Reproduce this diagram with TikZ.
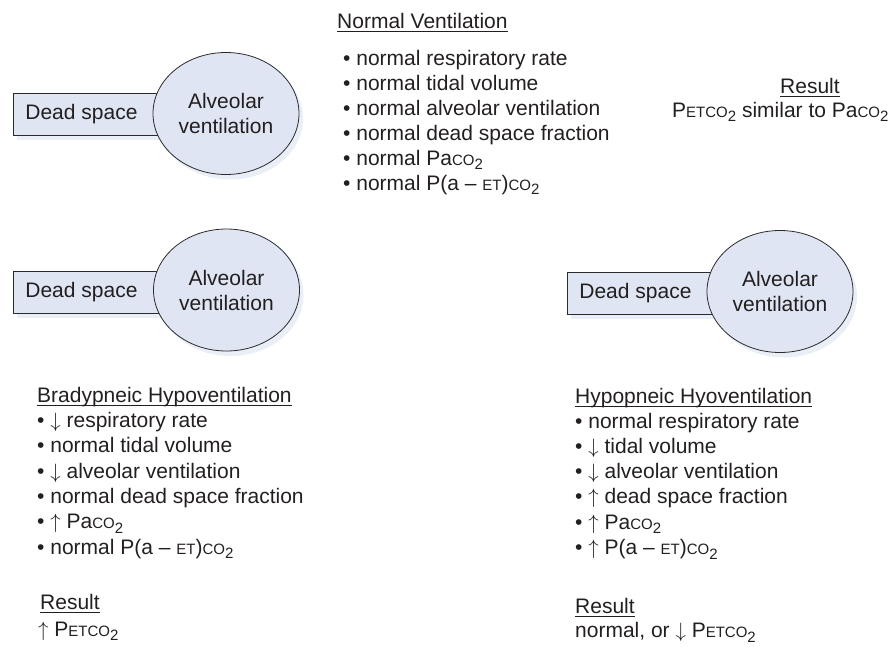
\documentclass[tikz,border=0pt]{standalone}
\usepackage{fontspec}
\setmainfont{Liberation Sans}
\usetikzlibrary{shapes.geometric,shadows}
\definecolor{boxfill}{HTML}{DFE5F2}
\definecolor{shadowc}{HTML}{E9EEF7}
\definecolor{ink}{HTML}{231F20}
\definecolor{edgec}{HTML}{2B2B2B}
\newcommand\smc[1]{{\fontsize{15}{15}\selectfont #1}}
\newcommand\subtwo{\raisebox{-4.5pt}{\fontsize{15}{15}\selectfont 2}}
\newcommand\paco{Pa\smc{CO}\subtwo}
\newcommand\petco{P\smc{ETCO}\subtwo}
\newcommand\pdiff{P(a – \smc{ET})\smc{CO}\subtwo}
\newcommand\dnar{$\downarrow$}
\newcommand\upar{$\uparrow$}
\newcommand\ulin[1]{\setbox0\hbox{#1}\rlap{\rule[-3.5pt]{\wd0}{0.9pt}}\box0}
\begin{document}
\begin{tikzpicture}[x=1pt,y=-1pt,
  font=\fontsize{21}{25}\selectfont, text=ink,
  txt/.style={anchor=base west, inner sep=0pt},
  shad/.style={drop shadow={shadow xshift=4pt, shadow yshift=-5pt, fill=shadowc, opacity=1}},
  dsbox/.style={draw=edgec, fill=boxfill, line width=0.8pt, minimum height=42pt,
    text width=126pt, align=flush left, inner xsep=12pt, inner ysep=0pt, anchor=north west, shad},
  alv/.style={ellipse, draw=edgec, fill=boxfill, line width=0.8pt, minimum width=146pt,
    minimum height=122pt, inner sep=0pt, align=center, shad}]
\useasboundingbox (0,0) rectangle (889,646);

% top diagram
\node[dsbox] (ds1) at (13,93) {Dead space};
\node[alv] (av1) at (226,113.5) {Alveolar\\ventilation};

% middle left
\node[dsbox] (ds2) at (13,271) {Dead space};
\node[alv] (av2) at (226.5,290) {Alveolar\\ventilation};

% middle right
\node[dsbox] (ds3) at (567,271.5) {Dead space};
\node[alv] (av3) at (780,291.5) {Alveolar\\ventilation};

% normal ventilation
\node[txt] (nvt) at (337,28) {\ulin{Normal Ventilation}};
\node[txt] (n1) at (343,65) {• normal respiratory rate};
\node[txt] (n2) at (343,90) {• normal tidal volume};
\node[txt] (n3) at (343,115) {• normal alveolar ventilation};
\node[txt] (n4) at (343,140) {• normal dead space fraction};
\node[txt] (n5) at (343,165) {• normal \paco};
\node[txt] (n6) at (343,190) {• normal \pdiff};

\node[txt] (r0t) at (780,93) {\ulin{Result}};
\node[txt] (r0) at (672,117) {\petco\ similar to \paco};

% bradypneic
\node[txt] (bt) at (37,402) {\ulin{Bradypneic Hypoventilation}};
\node[txt] (b1) at (37,427.5) {• \dnar\ respiratory rate};
\node[txt] (b2) at (37,452.8) {• normal tidal volume};
\node[txt] (b3) at (37,478.1) {• \dnar\ alveolar ventilation};
\node[txt] (b4) at (37,503.4) {• normal dead space fraction};
\node[txt] (b5) at (37,528.7) {• \upar\ \paco};
\node[txt] (b6) at (37,554) {• normal \pdiff};
\node[txt] (brt) at (40,609) {\ulin{Result}};
\node[txt] (br) at (38,636) {\upar\ \petco};

% hypopneic
\node[txt] (ht) at (575,403) {\ulin{Hypopneic Hyoventilation}};
\node[txt] (h1) at (575,428) {• normal respiratory rate};
\node[txt] (h2) at (575,453.3) {• \dnar\ tidal volume};
\node[txt] (h3) at (575,478.6) {• \dnar\ alveolar ventilation};
\node[txt] (h4) at (575,503.9) {• \upar\ dead space fraction};
\node[txt] (h5) at (575,529.2) {• \upar\ \paco};
\node[txt] (h6) at (575,554.5) {• \upar\ \pdiff};
\node[txt] (hrt) at (575,613) {\ulin{Result}};
\node[txt] (hr) at (575,637.5) {normal, or \dnar\ \petco};
\end{tikzpicture}
\end{document}
